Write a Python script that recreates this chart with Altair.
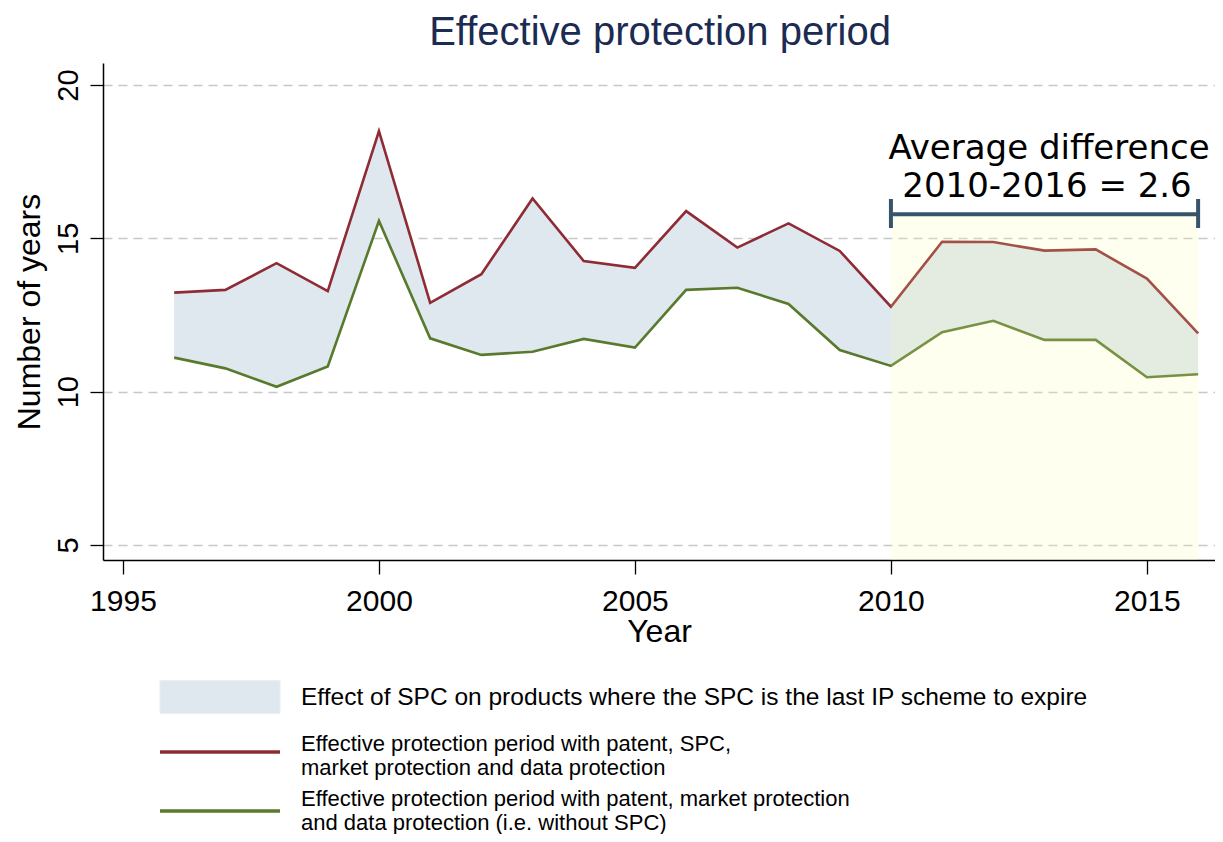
import altair as alt
import pandas as pd

# ---- data ----
years = list(range(1996, 2017))
with_spc = [13.23, 13.32, 14.19, 13.28, 18.50, 12.90, 13.83, 16.30, 14.26, 14.04,
            15.89, 14.70, 15.49, 14.59, 12.77, 14.89, 14.88, 14.60, 14.64, 13.69, 11.90]
without_spc = [11.11, 10.76, 10.16, 10.82, 15.57, 11.74, 11.20, 11.30, 11.72, 11.44,
               13.32, 13.39, 12.86, 11.36, 10.84, 11.94, 12.31, 11.69, 11.69, 10.47, 10.57]
period_start = [2010]
period_end = [2016]
x_ticks = [1995, 2000, 2005, 2010, 2015]
y_ticks = [5, 10, 15, 20]

title_text = "Effective protection period"
annot_lines = ["Average difference", "2010-2016 = 2.6"]
legend_area = "Effect of SPC on products where the SPC is the last IP scheme to expire"
legend_red = ["Effective protection period with patent, SPC,",
              "market protection and data protection"]
legend_green = ["Effective protection period with patent, market protection",
                "and data protection (i.e. without SPC)"]

df = pd.DataFrame({"year": years, "with_spc": with_spc, "without_spc": without_spc})
period = pd.DataFrame({"start": period_start, "end": period_end})
one = pd.DataFrame({"k": [0]})

W, H = 1112, 497
FONT = "Liberation Sans"
AREA = "#dfe8ee"
RED = "#8e2b35"
GREEN = "#587a2c"
BRACKET = "#36546c"

xs = alt.Scale(domain=[1994.61, 2016.33], nice=False, zero=False)
ys = alt.Scale(domain=[4.51, 20.72], nice=False, zero=False)

x_axis = alt.Axis(values=x_ticks, format="d", title="Year", grid=False,
                  labelFontSize=30, labelFont=FONT, labelColor="black",
                  titleFontSize=32, titleFont=FONT, titleFontWeight="normal", titleColor="black",
                  tickSize=14, tickColor="black", tickWidth=1.3,
                  domainColor="black", domainWidth=1.5,
                  labelPadding=12, titlePadding=0, labelFlush=False)
y_axis = alt.Axis(values=y_ticks, format="d", title="Number of years",
                  grid=True, gridDash=[9, 6], gridColor="#c8c8c8", gridWidth=1.3,
                  labelFontSize=29, labelFont=FONT, labelColor="black",
                  labelAngle=270, labelAlign="center", labelBaseline="bottom",
                  titleFontSize=32, titleFont=FONT, titleFontWeight="normal", titleColor="black",
                  tickSize=13, tickColor="black", tickWidth=1.3,
                  domainColor="black", domainWidth=1.5,
                  labelPadding=7, titlePadding=8, labelFlush=False)

X = lambda f: alt.X(f, type="quantitative", scale=xs, axis=x_axis)
Y = lambda f: alt.Y(f, type="quantitative", scale=ys, axis=y_axis)

base = alt.Chart(df)

area = base.mark_area(color=AREA, opacity=1).encode(
    x=X("year"), y=Y("without_spc"), y2="with_spc")
red = base.mark_line(color=RED, strokeWidth=2.6).encode(x=X("year"), y=Y("with_spc"))
green = base.mark_line(color=GREEN, strokeWidth=2.6).encode(x=X("year"), y=Y("without_spc"))

shade = alt.Chart(period).mark_rect(color="#ffffa7", opacity=0.18).encode(
    x=X("start"), x2="end", y=alt.value(152), y2=alt.value(H))

bracket_h = alt.Chart(period).mark_rule(color=BRACKET, strokeWidth=4).encode(
    x=X("start"), x2="end", y=alt.value(151.3))
bracket_l = alt.Chart(period).mark_rule(color=BRACKET, strokeWidth=4).encode(
    x=X("start"), y=alt.value(136), y2=alt.value(165))
bracket_r = alt.Chart(period).mark_rule(color=BRACKET, strokeWidth=4).encode(
    x=X("end"), y=alt.value(136), y2=alt.value(165))

def txt(s, x, y, size, color="black", font=FONT, align="left", line_height=None):
    kw = dict(text=s, fontSize=size, font=font, color=color,
              align=align, baseline="alphabetic")
    if line_height is not None:
        kw["lineHeight"] = line_height
    return alt.Chart(one).mark_text(**kw).encode(x=alt.value(x), y=alt.value(y))

title = txt(title_text, 557, -18, 40, color="#1b2b52", align="center")
ann1 = txt(annot_lines[0], 946, 96.3, 34, font="DejaVu Sans", align="center")
ann2 = txt(annot_lines[1], 944, 134, 34, font="DejaVu Sans", align="center")

leg_rect = alt.Chart(one).mark_rect(color=AREA, stroke="#e6edf2", strokeWidth=1).encode(
    x=alt.value(57), x2=alt.value(177), y=alt.value(617.7), y2=alt.value(650.3))
leg_red = alt.Chart(one).mark_rule(color=RED, strokeWidth=3.5).encode(
    x=alt.value(57), x2=alt.value(177), y=alt.value(689))
leg_green = alt.Chart(one).mark_rule(color=GREEN, strokeWidth=3.5).encode(
    x=alt.value(57), x2=alt.value(177), y=alt.value(748))

LF = 22
leg_t1 = txt(legend_area, 198, 642, 24.5)
leg_t2 = txt(legend_red, 198, 688, LF, line_height=23.5)
leg_t3 = txt(legend_green, 198, 743, LF, line_height=23.5)

chart = alt.layer(
    area, red, green, shade, bracket_h, bracket_l, bracket_r,
    ann1, ann2, title,
    leg_rect, leg_red, leg_green, leg_t1, leg_t2, leg_t3,
).properties(
    width=W, height=H,
    autosize=alt.AutoSizeParams(type="none"),
    padding={"left": 95, "top": 55, "right": 0, "bottom": 274},
    background="white",
).configure_view(stroke=None)

chart.save("out.html", embed_options={"renderer": "svg", "actions": False})
